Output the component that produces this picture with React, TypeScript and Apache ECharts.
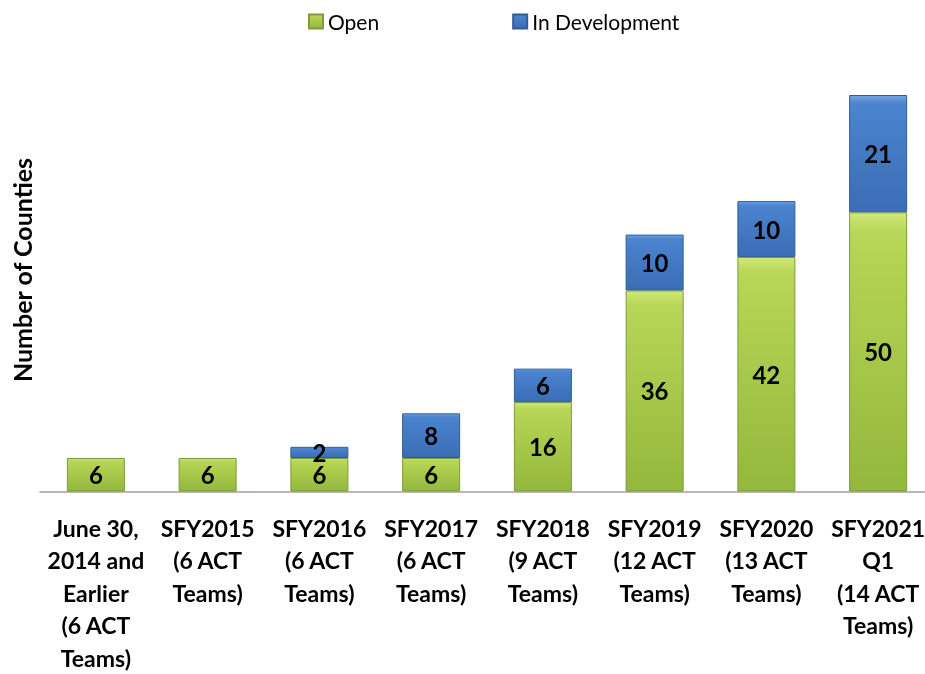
import React, { useEffect, useRef } from "react";
import * as echarts from "echarts";

const categories = [
  "June 30,\n2014 and\nEarlier\n(6 ACT\nTeams)",
  "SFY2015\n(6 ACT\nTeams)",
  "SFY2016\n(6 ACT\nTeams)",
  "SFY2017\n(6 ACT\nTeams)",
  "SFY2018\n(9 ACT\nTeams)",
  "SFY2019\n(12 ACT\nTeams)",
  "SFY2020\n(13 ACT\nTeams)",
  "SFY2021\nQ1\n(14 ACT\nTeams)",
];
const openValues = [6, 6, 6, 6, 16, 36, 42, 50];
const devValues = [null, null, 2, 8, 6, 10, 10, 21];

const FONT = "Lato, 'Open Sans', sans-serif";

export default function App() {
  const ref = useRef<HTMLDivElement>(null);
  useEffect(() => {
    const chart = echarts.init(ref.current!, null, { renderer: "svg" });
    const green = new echarts.graphic.LinearGradient(0, 0, 0, 1, [
      { offset: 0, color: "#cfe878" },
      { offset: 0.07, color: "#b8d657" },
      { offset: 1, color: "#93b83c" },
    ]);
    const blue = new echarts.graphic.LinearGradient(0, 0, 0, 1, [
      { offset: 0, color: "#72a3e6" },
      { offset: 0.07, color: "#4c84cf" },
      { offset: 1, color: "#3a6db5" },
    ]);
    const labelStyle = {
      show: true,
      position: "inside" as const,
      color: "#000",
      fontWeight: "bold" as const,
      fontSize: 24,
      fontFamily: FONT,
    };
    chart.setOption({
      animation: false,
      legend: {
        top: 6,
        left: 303,
        itemGap: 133,
        itemWidth: 14,
        itemHeight: 14,
        icon: "rect",
        textStyle: { fontSize: 21, fontFamily: FONT, color: "#000" },
        data: ["Open", "In Development"],
      },
      grid: { left: 40, width: 894, top: 95, height: 401 },
      xAxis: {
        type: "category",
        data: categories,
        axisLine: { lineStyle: { color: "#a0a0a0", width: 1.5 } },
        axisTick: { show: false },
        axisLabel: {
          interval: 0,
          color: "#000",
          fontWeight: "bold",
          fontSize: 23,
          lineHeight: 32.5,
          fontFamily: FONT,
          margin: 20,
        },
      },
      yAxis: {
        type: "value",
        min: 0,
        max: 71,
        show: false,
        splitLine: { show: false },
      },
      graphic: [
        {
          type: "text",
          x: 22,
          y: 270,
          rotation: Math.PI / 2,
          style: {
            text: "Number of Counties",
            fontSize: 25,
            fontWeight: "bold",
            fontFamily: FONT,
            fill: "#000",
            textAlign: "center",
            textVerticalAlign: "middle",
          },
        },
      ],
      series: [
        {
          name: "Open",
          type: "bar",
          stack: "total",
          barWidth: 58,
          data: openValues,
          itemStyle: { color: green, borderColor: "#7f9a3a", borderWidth: 1 },
          label: labelStyle,
        },
        {
          name: "In Development",
          type: "bar",
          stack: "total",
          barWidth: 58,
          data: devValues,
          itemStyle: { color: blue, borderColor: "#2f5d99", borderWidth: 1 },
          label: labelStyle,
        },
      ],
    });
    return () => chart.dispose();
  }, []);
  return (
    <div
      ref={ref}
      style={{ width: 940, height: 674, position: "fixed", left: 0, top: 0 }}
    />
  );
}
